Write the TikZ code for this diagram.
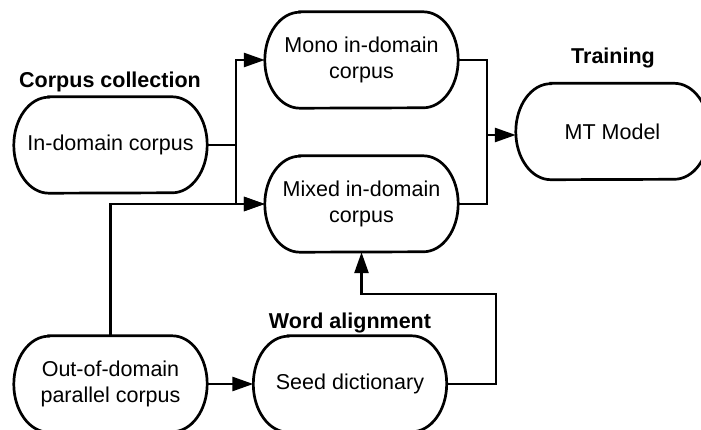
\documentclass[tikz,border=0pt]{standalone}
\usepackage{fontspec}
\setmainfont{Liberation Sans}
\usetikzlibrary{arrows.meta}
\tikzset{
  x=1pt, y=1pt,
  boxtext/.style={minimum width=193pt, minimum height=96pt, inner sep=0pt, align=center,
    font=\fontsize{21.5}{26}\selectfont},
  boxline/.style={line width=2.7pt},
  lbl/.style={anchor=base, inner sep=0pt, font=\fontsize{21.5}{26}\selectfont\bfseries},
  conn/.style={line width=2.7pt},
  arr/.style={line width=2.7pt, -{Triangle[length=21pt,width=14pt]}},
}
\newcommand\termbox[4]{%
  \node[boxtext] (#1) at (#2,#3) {#4};
  \draw[boxline] ([xshift=35pt]#1.north west) -- ([xshift=-35pt]#1.north east)
    arc[start angle=90, end angle=-90, x radius=35pt, y radius=48pt]
    -- ([xshift=35pt]#1.south west)
    arc[start angle=270, end angle=90, x radius=35pt, y radius=48pt] -- cycle;
}
\begin{document}
\begin{tikzpicture}
\useasboundingbox (0,0) rectangle (701,-430);
\clip (0,0) rectangle (701,-430);
\termbox{indom}{110.5}{-145}{In-domain corpus}
\termbox{mono}{361.5}{-60}{Mono in-domain\\corpus}
\termbox{mixed}{361.5}{-204}{Mixed in-domain\\corpus}
\termbox{mt}{612.5}{-131.5}{MT Model}
\termbox{ood}{110.5}{-384}{Out-of-domain\\parallel corpus}
\termbox{seed}{350}{-384}{Seed dictionary}

\node[lbl] (lcorp) at (110,-88) {Corpus collection};
\node[lbl] (ltrain) at (613,-64) {Training};
\node[lbl] (lword) at (350,-328) {Word alignment};

\coordinate (ja) at (236,-145);
\coordinate (jb) at (487,-135);
\coordinate (jc) at (496,-294);

\draw[conn] (indom.east) -- (ja);
\draw[arr] (ja) |- (mono.west);
\draw[arr] (ja) |- (mixed.west);
\draw[arr] (ood.north) |- (mixed.west);
\draw[arr] (ood.east) -- (seed.west);
\draw[conn] (mono.east) -| (jb);
\draw[conn] (mixed.east) -| (jb);
\draw[arr] (jb) -- (jb -| mt.west);
\draw[arr] (seed.east) -| (jc) -| (mixed.south);
\end{tikzpicture}
\end{document}
